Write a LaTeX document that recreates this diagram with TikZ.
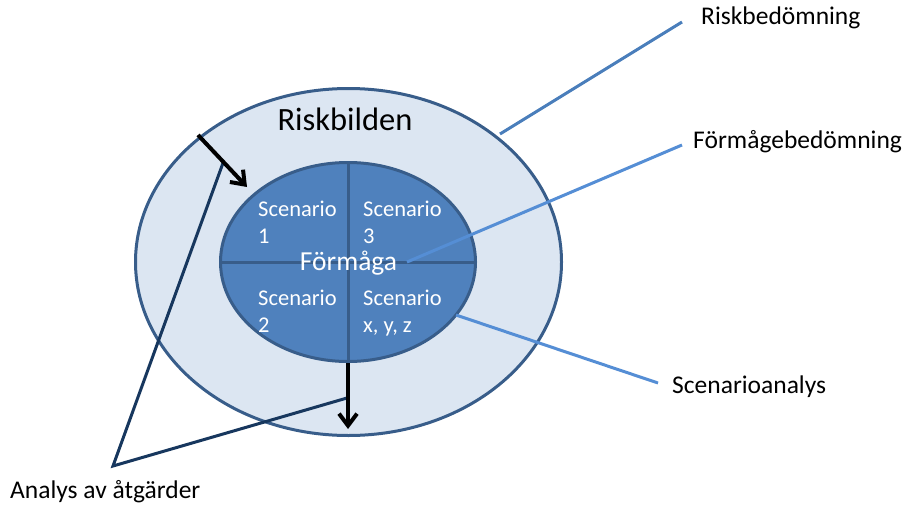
\documentclass[tikz,border=0pt]{standalone}
\usepackage{fontspec}
\setmainfont{Carlito}
\usetikzlibrary{shapes.geometric,arrows.meta}
\definecolor{ringfill}{HTML}{DCE6F2}
\definecolor{ringline}{HTML}{385D8A}
\definecolor{corefill}{HTML}{4F81BD}
\definecolor{callline}{HTML}{4A7EBB}
\definecolor{callbright}{HTML}{558ED5}
\definecolor{navyline}{HTML}{17375E}

\begin{document}
\begin{tikzpicture}[x=1pt, y=-1pt,
  ring/.style={draw=ringline, line width=3pt, ellipse, inner sep=0pt},
  scen/.style={text=white, font=\fontsize{22.5}{27}\selectfont, align=left, anchor=north west, inner sep=0pt},
  tag/.style={font=\fontsize{25.5}{30}\selectfont, anchor=base west, inner sep=0pt},
  callout/.style={draw=callline, line width=3pt},
  pointer/.style={draw=black, line width=4pt, -{Straight Barb[length=12pt, width=18pt]}}]
\useasboundingbox (0,0) rectangle (912,511);

% ellipses
\node (outer) [ring, fill=ringfill, minimum width=426pt, minimum height=347pt] at (348.5,262) {};
\node (inner) [ring, fill=corefill, minimum width=255pt, minimum height=199pt] at (348,262) {};
\draw[ringline, line width=3pt] (inner.north) -- (inner.south);
\draw[ringline, line width=3pt] (inner.west) -- (inner.east);

% texts
\node (riskbild) [font=\fontsize{32.5}{38}\selectfont, anchor=base, inner sep=0pt] at (345,130) {Riskbilden};
\node (formaga) [text=white, font=\fontsize{27.5}{33}\selectfont, anchor=base, inner sep=0pt] at (348.5,270) {Förmåga};
\node (scen1) [scen] at (258,201) {Scenario\\1};
\node (scen3) [scen] at (363,201) {Scenario\\3};
\node (scen2) [scen] at (258,290) {Scenario\\2};
\node (scenx) [scen] at (363,290) {Scenario\\x, y, z};

\node (riskbed) [tag] at (701,25) {Riskbedömning};
\node (formbed) [tag] at (693,148) {Förmågebedömning};
\node (scenana) [tag] at (672,393) {Scenarioanalys};
\node (atgard) [tag] at (10,498) {Analys av åtgärder};

% connector points
\coordinate (rbstart) at (500,134);
\coordinate (rbend) at (682,22);
\coordinate (fbstart) at (407,262);
\coordinate (fbend) at (682,145);
\coordinate (sastart) at (456,315);
\coordinate (saend) at (658,383);
\coordinate (apex) at (113,466);
\coordinate (aaup) at (223,163);
\coordinate (aadown) at (347,398);
\coordinate (arrstart) at (198,135);
\coordinate (arrend) at (247,187);
\coordinate (dropend) at (348,429);

\draw[callout] (rbstart) -- (rbend);
\draw[callout, draw=callbright] (fbstart) -- (fbend);
\draw[callout, draw=callbright] (sastart) -- (saend);
\draw[navyline, line width=3pt] (aaup) -- (apex) -- (aadown);

\draw[pointer] (arrstart) -- (arrend);
\draw[pointer] (inner.south) -- (dropend);
\end{tikzpicture}
\end{document}
